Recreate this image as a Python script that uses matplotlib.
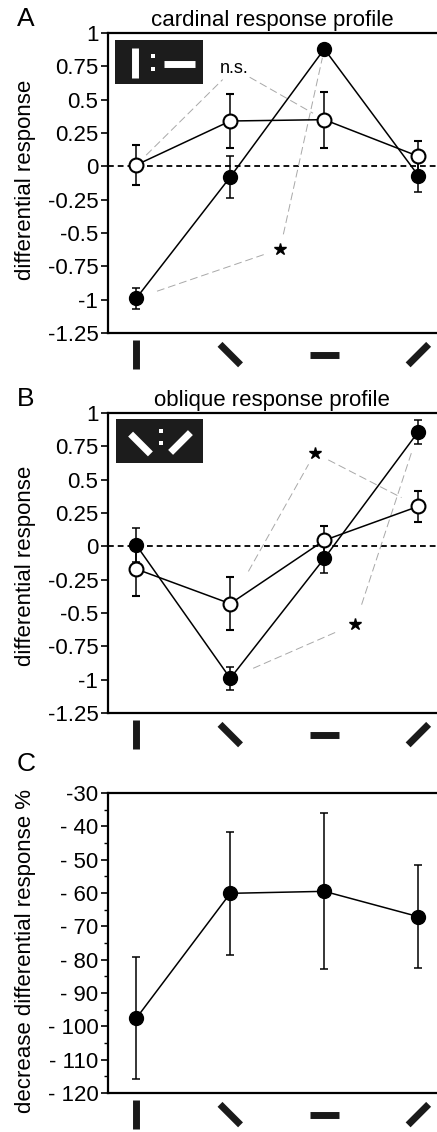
import numpy as np
import matplotlib
matplotlib.use('Agg')
import matplotlib.pyplot as plt
from matplotlib.transforms import blended_transform_factory, ScaledTranslation

plt.rcParams['font.family'] = ['Liberation Sans', 'DejaVu Sans']

W, H, DPI = 437, 1132, 100

# stimulus orientation for each x position (deg): |  \  -  /
orient = [90, 135, 0, 45]
xpos = np.arange(len(orient))

# panel A - cardinal response profile
a_filled = [-0.99, -0.08, 0.88, -0.07]
a_filled_err = [0.08, 0.16, 0.03, 0.12]
a_open = [0.01, 0.34, 0.35, 0.075]
a_open_err = [0.15, 0.20, 0.21, 0.115]

# panel B - oblique response profile
b_filled = [0.01, -0.99, -0.09, 0.86]
b_filled_err = [0.13, 0.085, 0.11, 0.09]
b_open = [-0.17, -0.43, 0.045, 0.30]
b_open_err = [0.20, 0.20, 0.11, 0.115]

# panel C - decrease of differential response (%)
c_vals = [-97.6, -60.1, -59.5, -67.1]
c_err = [18.3, 18.5, 23.4, 15.4]
c_ticks = [-30, -40, -50, -60, -70, -80, -90, -100, -110, -120]
c_ticklabels = ['-30'] + ['- %d' % abs(t) for t in c_ticks[1:]]

ab_ticks = [1, 0.75, 0.5, 0.25, 0, -0.25, -0.5, -0.75, -1, -1.25]
ab_ticklabels = ['1', '0.75', '0.5', '0.25', '0', '-0.25', '-0.5', '-0.75', '-1', '-1.25']

FS = 16

fig = plt.figure(figsize=(W / DPI, H / DPI), dpi=DPI)


def px_axes(left, top, right, bottom):
    return fig.add_axes([left / W, 1 - bottom / H, (right - left) / W, (bottom - top) / H])


def style_axes(ax):
    ax.spines['right'].set_visible(False)
    for s in ['left', 'top', 'bottom']:
        ax.spines[s].set_linewidth(1.6)
    ax.set_xticks([])
    ax.tick_params(axis='y', direction='out', length=5, width=1.2, labelsize=FS, pad=2)
    ax.set_xlim(-0.3, 3.23)


def stim_bars(ax, angles, y_off=-0.072, half=0.145, lw=5.0):
    # little oriented bars under the x axis instead of tick labels
    tr = blended_transform_factory(ax.transData, ax.transAxes)
    for xi, ang in zip(xpos, angles):
        dx, dy = half * np.cos(np.radians(ang)), half * np.sin(np.radians(ang))
        t = fig.dpi_scale_trans + ScaledTranslation(xi, y_off, tr)
        ax.plot([-dx, dx], [-dy, dy], transform=t, color='#1a1a1a', lw=lw,
                solid_capstyle='butt', clip_on=False)


def bracket(ax, p0, pm, p1, gaps, label=None):
    # thin grey dashed connection between two points through a marker
    d = ax.transData
    P0, PM, P1 = d.transform([p0, pm, p1])
    for a, b, ga, gb in [(P0, PM, gaps[0], gaps[1]), (PM, P1, gaps[2], gaps[3])]:
        v = (b - a) / np.hypot(*(b - a))
        seg = d.inverted().transform([a + v * ga, b - v * gb])
        ax.plot(seg[:, 0], seg[:, 1], color='#a8a8a8', lw=0.7, dashes=(8, 4), zorder=1)
    if label is None:
        ax.plot(*pm, marker='*', ms=9, color='k', mec='k', zorder=4)
    else:
        ax.text(pm[0], pm[1], label, fontsize=13, ha='center', va='center')


def icon(left, top, w, h, bars, dots):
    ia = fig.add_axes([left / W, 1 - (top + h) / H, w / W, h / H])
    ia.set_facecolor('#1c1c1c')
    ia.set_xlim(0, w)
    ia.set_ylim(h, 0)
    ia.set_xticks([])
    ia.set_yticks([])
    for s in ia.spines.values():
        s.set_visible(False)
    for cx, cy, ang, length in bars:
        dx = length / 2 * np.cos(np.radians(ang))
        dy = -length / 2 * np.sin(np.radians(ang))
        ia.plot([cx - dx, cx + dx], [cy - dy, cy + dy], color='white', lw=5,
                solid_capstyle='butt')
    ia.plot(dots[0], dots[1], 's', color='white', ms=2.3, mew=0)


def profile(ax, filled, filled_err, opn, opn_err):
    ax.axhline(0, color='k', lw=1.3, dashes=(3.2, 2.2), zorder=1)
    ax.errorbar(xpos, filled, yerr=filled_err, fmt='-o', color='k', lw=1.1,
                elinewidth=1.1, capsize=3, capthick=1.1, ms=10, mec='k', zorder=3)
    ax.errorbar(xpos, opn, yerr=opn_err, fmt='-o', color='k', lw=1.1,
                elinewidth=1.1, capsize=3, capthick=1.1, ms=10, mfc='white',
                mec='k', mew=1.5, zorder=3)
    ax.set_ylim(-1.25, 1)
    ax.set_yticks(ab_ticks)
    ax.set_yticklabels(ab_ticklabels)


# ---- A ----
axA = px_axes(108, 33, 440, 333)
style_axes(axA)
profile(axA, a_filled, a_filled_err, a_open, a_open_err)
bracket(axA, (0, a_filled[0]), (1.53, -0.62), (2, a_filled[2]), (22, 14, 15, 9))
bracket(axA, (0, a_open[0]), (1.04, 0.735), (2, a_open[2]), (14, 16, 18, 13), label='n.s.')
stim_bars(axA, orient)
icon(115, 39.5, 88, 44.5, [(19.6, 23.8, 90, 30), (64.5, 24.5, 0, 31)], ([38.3, 38.3], [16.5, 29.5]))

# ---- B ----
axB = px_axes(108, 413, 440, 713)
style_axes(axB)
profile(axB, b_filled, b_filled_err, b_open, b_open_err)
bracket(axB, (1, b_open[1]), (1.90, 0.70), (3, b_open[3]), (37, 13, 15, 19))
bracket(axB, (1, b_filled[1]), (2.33, -0.58), (3, b_filled[3]), (25, 19, 20, 21))
stim_bars(axB, orient)
icon(116, 419.3, 87, 44, [(24.5, 24.7, 135, 28), (64.5, 23.2, 45, 28)], ([44.7, 44.7], [11.7, 23.7]))

# ---- C ----
axC = px_axes(108, 793, 440, 1093)
style_axes(axC)
axC.errorbar(xpos, c_vals, yerr=c_err, fmt='-o', color='k', lw=1.1,
             elinewidth=1.1, capsize=3, capthick=1.1, ms=10, mec='k', zorder=3)
axC.set_ylim(-120, -30)
axC.set_yticks(c_ticks)
axC.set_yticklabels(c_ticklabels)
axC.set_yticks(np.arange(-115, -30, 10), minor=True)
axC.tick_params(axis='y', which='minor', direction='out', length=3, width=1.0)
stim_bars(axC, orient)

# ---- texts ----
fig.text(272 / W, 1 - 26 / H, 'cardinal response profile', fontsize=FS, ha='center', va='baseline')
fig.text(272 / W, 1 - 406 / H, 'oblique response profile', fontsize=FS, ha='center', va='baseline')
for lab, yc in [('A', 19), ('B', 399), ('C', 764)]:
    fig.text(26 / W, 1 - yc / H, lab, fontsize=19, ha='center', va='center')
fig.text(26 / W, 1 - 180 / H, 'differential response', fontsize=FS, rotation=90, ha='center', va='center')
fig.text(26 / W, 1 - 566 / H, 'differential response', fontsize=FS, rotation=90, ha='center', va='center')
fig.text(25.5 / W, 1 - 951 / H, 'decrease differential response %', fontsize=FS, rotation=90,
         ha='center', va='center')

fig.savefig('out.png', dpi=DPI)
